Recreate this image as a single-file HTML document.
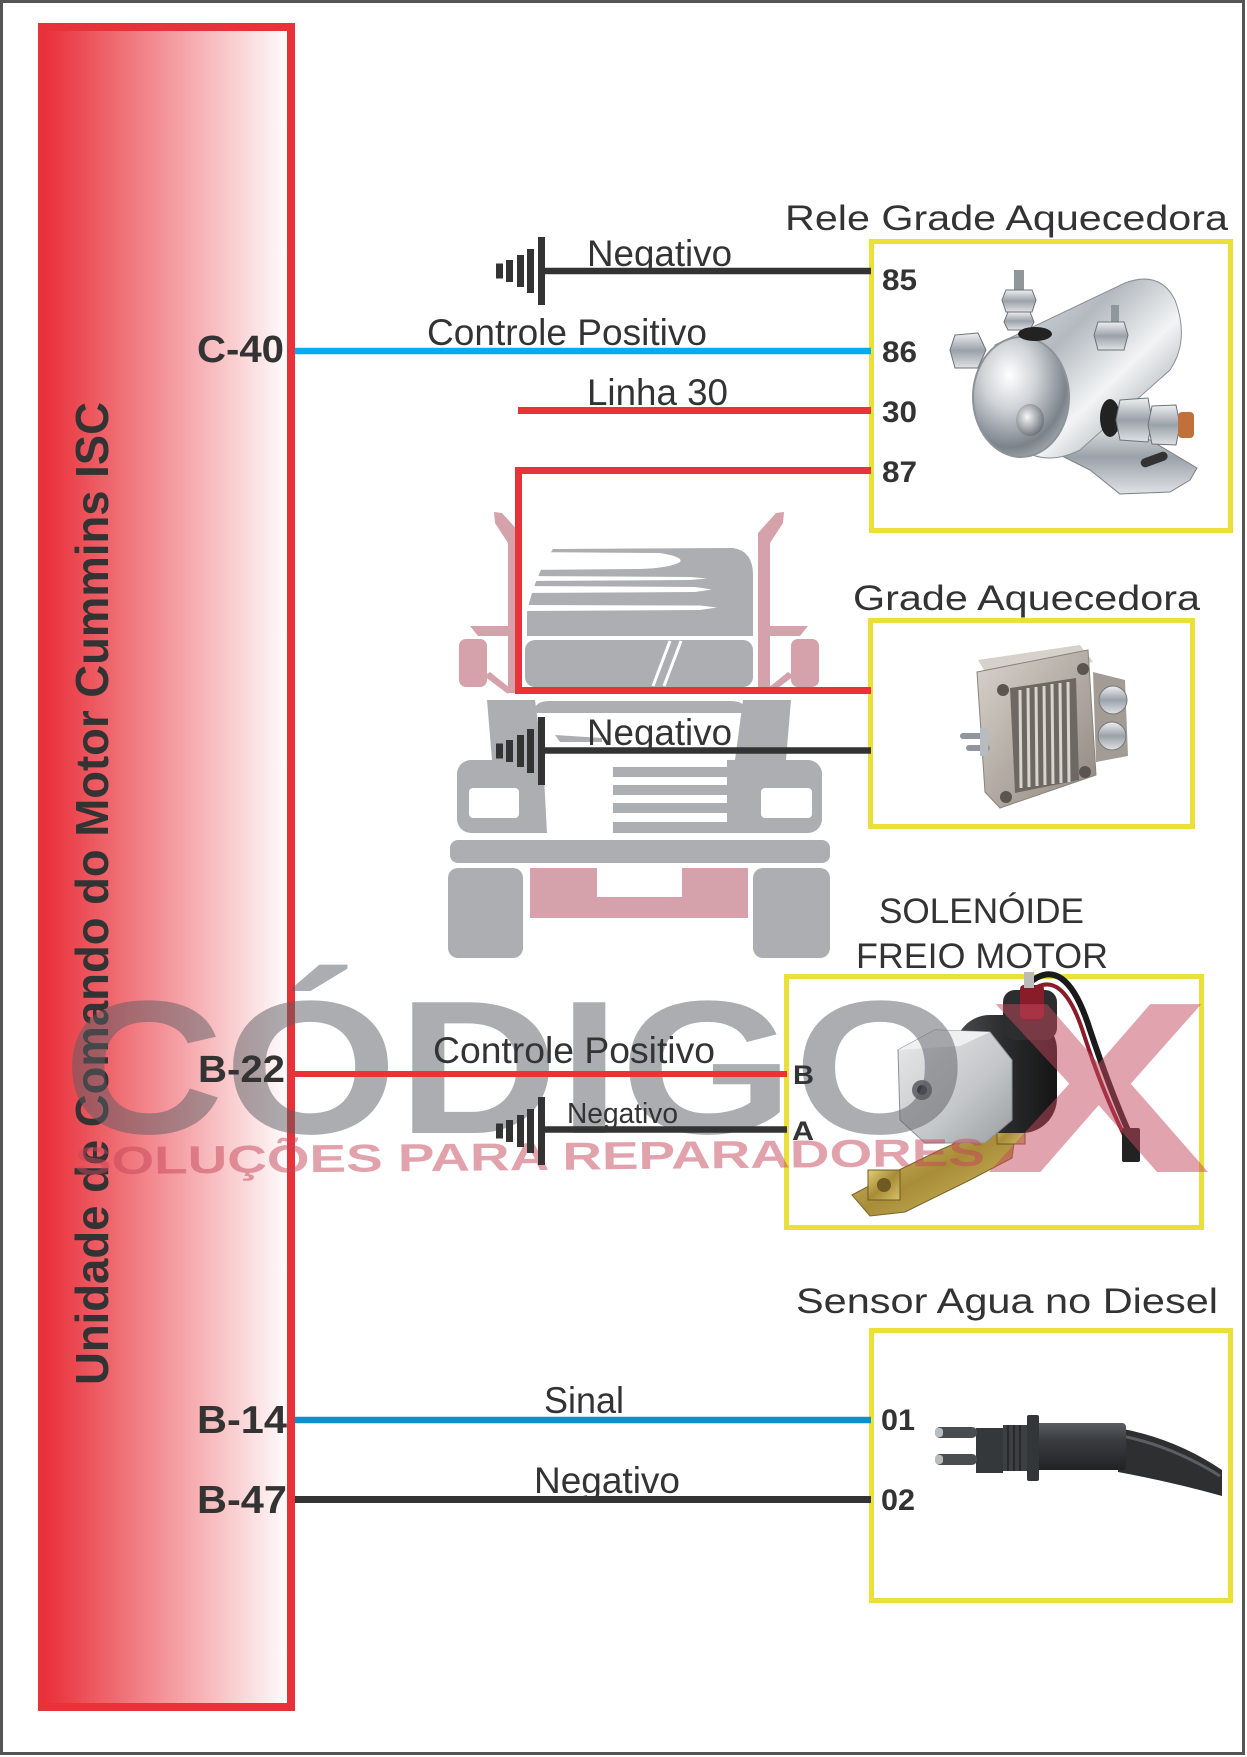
<!DOCTYPE html>
<html><head><meta charset="utf-8"><style>
html,body{margin:0;padding:0;background:#fff;}
svg{display:block;}
</style></head><body>
<svg width="1247" height="1757" viewBox="0 0 1247 1757" xmlns="http://www.w3.org/2000/svg" font-family="'Liberation Sans', Arial, sans-serif">
<defs>
<linearGradient id="panelGrad" gradientUnits="userSpaceOnUse" x1="38" y1="0" x2="291" y2="0">
<stop offset="0" stop-color="#e8303a"/><stop offset="0.06" stop-color="#e9363f"/><stop offset="1" stop-color="#ffffff"/>
</linearGradient>
<linearGradient id="silver" x1="0" y1="0" x2="0" y2="1">
<stop offset="0" stop-color="#eef0f2"/><stop offset="0.5" stop-color="#9aa1a8"/><stop offset="1" stop-color="#dfe2e5"/>
</linearGradient>
<linearGradient id="silverBody" x1="0" y1="0" x2="1" y2="1">
<stop offset="0" stop-color="#e6e9ec"/><stop offset="0.35" stop-color="#b3b9bf"/><stop offset="0.6" stop-color="#f2f4f5"/><stop offset="1" stop-color="#7e858c"/>
</linearGradient>
<radialGradient id="dome" cx="0.38" cy="0.32" r="0.8">
<stop offset="0" stop-color="#ffffff"/><stop offset="0.35" stop-color="#cfd3d7"/><stop offset="0.75" stop-color="#7b828a"/><stop offset="1" stop-color="#b7bcc1"/>
</radialGradient>
<radialGradient id="dimple" cx="0.4" cy="0.4" r="0.7">
<stop offset="0" stop-color="#f5f6f7"/><stop offset="1" stop-color="#5e656c"/>
</radialGradient>
<linearGradient id="alu" x1="0" y1="0" x2="1" y2="1">
<stop offset="0" stop-color="#d9d4cd"/><stop offset="0.5" stop-color="#b3aca4"/><stop offset="1" stop-color="#8f8880"/>
</linearGradient>
<linearGradient id="brass" x1="0" y1="0" x2="1" y2="1">
<stop offset="0" stop-color="#e2cf7a"/><stop offset="0.5" stop-color="#a88c38"/><stop offset="1" stop-color="#d8c06a"/>
</linearGradient>
<linearGradient id="coil" x1="0" y1="0" x2="1" y2="0">
<stop offset="0" stop-color="#4a4c4e"/><stop offset="0.5" stop-color="#2a2b2c"/><stop offset="1" stop-color="#151515"/>
</linearGradient>
<linearGradient id="block" x1="0" y1="0" x2="1" y2="1">
<stop offset="0" stop-color="#e9eaeb"/><stop offset="0.6" stop-color="#c3c6c8"/><stop offset="1" stop-color="#9a9ea2"/>
</linearGradient>
<linearGradient id="sensorBody" x1="0" y1="0" x2="0" y2="1">
<stop offset="0" stop-color="#5a5e62"/><stop offset="0.35" stop-color="#3b3e41"/><stop offset="1" stop-color="#202224"/>
</linearGradient>
</defs>

<rect x="0" y="0" width="1247" height="1757" fill="#fff"/>
<rect x="1.5" y="1.5" width="1242" height="1752" fill="none" stroke="#555" stroke-width="3"/>

<!-- ECU panel -->
<rect x="42" y="27" width="249" height="1680" fill="url(#panelGrad)" stroke="#e8323a" stroke-width="8"/>
<text transform="translate(108,1385) rotate(-90)" font-size="46" font-weight="bold" fill="#333" textLength="983" lengthAdjust="spacingAndGlyphs">Unidade de Comando do Motor Cummins ISC</text>

<!-- Truck watermark -->
<g>
<g fill="#d5a2ac">
<path d="M494,512 L502,513 L520,533 L520,693 L508,693 L508,543 L495,523 Z"/>
<path d="M784,512 L776,513 L758,533 L758,693 L770,693 L770,543 L783,523 Z"/>
<rect x="459" y="639" width="28" height="48" rx="7"/>
<rect x="791" y="639" width="28" height="48" rx="7"/>
<path d="M470,626 L508,626 L508,636 L478,636 Z"/>
<path d="M808,626 L770,626 L770,636 L800,636 Z"/>
<path d="M484,676 L490,672 L510,688 L508,694 Z"/>
<path d="M794,676 L788,672 L768,688 L770,694 Z"/>
<rect x="530" y="868" width="218" height="50"/>
</g>
<rect x="597" y="868" width="85" height="29" fill="#fff"/>
<g fill="#adaeb2">
<path d="M553,549 L733,548 Q753,551 753,575 L753,636 L527,636 L527,612 Q535,575 553,549 Z"/>
<rect x="525" y="640" width="228" height="47" rx="10"/>
<path d="M535,713 L535,708 Q537,701 550,701 L730,701 Q745,701 745,710 L745,713 Z"/>
<path d="M487,700 L535,700 L543,760 L492,760 Z"/>
<path d="M791,700 L743,700 L735,760 L786,760 Z"/>
<rect x="457" y="760" width="365" height="73" rx="14"/>
<rect x="450" y="840" width="380" height="23" rx="8"/>
<rect x="448" y="868" width="75" height="90" rx="10"/>
<rect x="753" y="868" width="77" height="90" rx="10"/>
<path d="M555,735 L602,738 L602,742 L560,742 Z"/>
</g>
<g fill="#fff">
<path d="M520,552 L660,553 Q684,557 680,562 Q670,568 640,569 L520,570 Z"/>
<path d="M520,576 L690,577 L707,578.5 L690,580 L520,581 Z"/>
<path d="M520,586 L695,587 L712,589.5 L695,592 L520,593 Z"/>
<path d="M520,605 L700,605.5 L717,607.5 L700,610 L520,611 Z"/>
<path d="M543,757 L613,757 L613,833 L547,833 Z"/>
<rect x="613" y="758" width="114" height="9"/>
<rect x="613" y="777" width="114" height="8"/>
<rect x="613" y="795" width="114" height="8"/>
<rect x="613" y="813" width="114" height="9"/>
<rect x="469" y="788" width="50" height="30" rx="4"/>
<rect x="761" y="788" width="51" height="30" rx="4"/>
</g>
<g stroke="#fff" stroke-width="3">
<line x1="670" y1="641" x2="653" y2="686"/>
<line x1="681" y1="641" x2="664" y2="686"/>
</g>
</g>

<!-- Yellow boxes -->
<g fill="none" stroke="#ebe03a" stroke-width="5">
<rect x="871.5" y="241.5" width="359" height="289"/>
<rect x="870.5" y="620.5" width="322" height="206"/>
<rect x="786.5" y="976.5" width="415" height="251"/>
<rect x="871.5" y="1330.5" width="359" height="270"/>
</g>

<!-- Relay image -->
<g>
<path d="M1075,420 L1150,440 L1197,468 L1190,480 L1170,492 L1120,494 L1090,470 L1060,455 Z" fill="url(#silver)" stroke="#7a7f84" stroke-width="1"/>
<rect x="1140" y="455" width="28" height="9" rx="4.5" transform="rotate(-20 1154 459)" fill="#333"/>
<path d="M995,345 L1125,283 Q1160,270 1175,300 Q1190,340 1170,370 L1080,450 Q1040,470 1010,440 Z" fill="url(#silverBody)" stroke="#8a9096" stroke-width="1"/>
<ellipse cx="1021" cy="397" rx="48" ry="60" fill="url(#dome)" stroke="#8d9399" stroke-width="2"/>
<ellipse cx="1030" cy="420" rx="14" ry="16" fill="url(#dimple)"/>
<rect x="1014" y="270" width="10" height="22" fill="#8f969c"/>
<polygon points="1006,290 1032,290 1036,300 1032,312 1006,312 1002,300" fill="url(#silver)" stroke="#6d737a"/>
<polygon points="1008,312 1030,312 1034,322 1030,330 1008,330 1004,322" fill="url(#silver)" stroke="#6d737a"/>
<ellipse cx="1035" cy="334" rx="17" ry="7" fill="#222"/>
<rect x="1111" y="305" width="8" height="18" fill="#8f969c"/>
<polygon points="1098,322 1124,322 1128,335 1124,350 1098,350 1094,335" fill="url(#silver)" stroke="#6d737a"/>
<polygon points="955,335 978,333 986,350 978,368 955,368 950,350" fill="url(#silver)" stroke="#6d737a"/>
<ellipse cx="1110" cy="418" rx="10" ry="19" fill="#222"/>
<polygon points="1120,400 1148,398 1152,420 1148,442 1120,440 1116,420" fill="url(#silver)" stroke="#6d737a"/>
<polygon points="1152,406 1176,405 1180,425 1176,445 1152,444 1148,425" fill="url(#silver)" stroke="#6d737a"/>
<rect x="1178" y="412" width="16" height="26" rx="4" fill="#c0703a"/>
</g>

<!-- Grade heater image -->
<g>
<polygon points="1093,672 1125,680 1128,756 1096,762" fill="#a39c94"/>
<circle cx="1113" cy="700" r="14" fill="url(#silver)" stroke="#777"/>
<circle cx="1112" cy="736" r="14" fill="url(#silver)" stroke="#777"/>
<polygon points="978,660 1080,645 1093,662 990,680" fill="#d6d1ca"/>
<polygon points="977,672 1088,650 1096,775 1000,808 985,792" fill="url(#alu)" stroke="#8a837c"/>
<polygon points="1010,688 1076,678 1079,780 1015,793" fill="#6e6862"/>
<g stroke="#d8d4d0" stroke-width="3">
<line x1="1020" y1="690" x2="1021" y2="788"/><line x1="1028" y1="688" x2="1029" y2="787"/>
<line x1="1036" y1="687" x2="1037" y2="786"/><line x1="1044" y1="686" x2="1045" y2="785"/>
<line x1="1052" y1="684" x2="1053" y2="784"/><line x1="1060" y1="683" x2="1061" y2="783"/>
<line x1="1068" y1="682" x2="1069" y2="782"/>
</g>
<g fill="#5a554f">
<circle cx="1003" cy="690" r="6"/><circle cx="1083" cy="669" r="6"/>
<circle cx="1085" cy="772" r="6"/><circle cx="1006" cy="797" r="6"/>
</g>
<rect x="960" y="733" width="24" height="6" rx="3" fill="#8f969c"/>
<rect x="966" y="745" width="24" height="6" rx="3" fill="#8f969c"/>
<rect x="980" y="728" width="8" height="28" fill="#b8bcc0"/>
</g>

<!-- Solenoid image -->
<g>
<path d="M1027,985 Q1065,950 1090,1030 Q1110,1090 1130,1135" fill="none" stroke="#1a1a1a" stroke-width="6"/>
<path d="M1030,992 Q1062,965 1084,1035 Q1102,1090 1124,1135" fill="none" stroke="#8b1a2a" stroke-width="4"/>
<rect x="1122" y="1128" width="18" height="34" rx="2" fill="#222"/>
<path d="M852,1195 L895,1172 L940,1150 L990,1128 L1015,1135 L1012,1158 L970,1180 L905,1212 L870,1216 Z" fill="url(#brass)" stroke="#7a6528"/>
<rect x="868" y="1170" width="32" height="30" fill="url(#brass)" stroke="#6e5a22"/>
<circle cx="884" cy="1185" r="7" fill="#6e5a22"/>
<rect x="997" y="1118" width="28" height="26" fill="url(#brass)" stroke="#6e5a22"/>
<rect x="955" y="1015" width="102" height="118" rx="35" fill="url(#coil)"/>
<rect x="1003" y="990" width="54" height="50" rx="12" fill="#2c2d2e"/>
<rect x="1020" y="985" width="24" height="34" rx="4" fill="#8a1c2a"/>
<rect x="1024" y="972" width="10" height="16" fill="#bbb"/>
<polygon points="898,1050 935,1030 990,1032 1012,1060 1012,1120 985,1143 925,1143 900,1120" fill="url(#block)" stroke="#8d9194"/>
<polygon points="898,1050 935,1030 990,1032 960,1046" fill="#eef0f1"/>
<circle cx="922" cy="1090" r="10" fill="#6a6e72"/>
<circle cx="922" cy="1090" r="5" fill="#3a3d40"/>
</g>

<!-- Sensor image -->
<g>
<path d="M1118,1428 Q1175,1438 1222,1470 L1222,1496 Q1172,1482 1118,1472 Z" fill="#2d2f31"/>
<path d="M1122,1436 Q1172,1446 1220,1476" fill="none" stroke="#5b5f63" stroke-width="3"/>
<rect x="1031" y="1423" width="95" height="47" rx="4" fill="url(#sensorBody)"/>
<rect x="1027" y="1415" width="12" height="66" rx="2" fill="#333638"/>
<rect x="1003" y="1425" width="24" height="46" fill="#3d4043"/>
<g stroke="#222" stroke-width="1.5"><line x1="1008" y1="1425" x2="1008" y2="1471"/><line x1="1014" y1="1425" x2="1014" y2="1471"/><line x1="1020" y1="1425" x2="1020" y2="1471"/></g>
<rect x="976" y="1428" width="27" height="45" fill="#35383a"/>
<rect x="935" y="1427" width="42" height="11" rx="5" fill="#4a4d50"/>
<rect x="935" y="1454" width="42" height="11" rx="5" fill="#4a4d50"/>
<rect x="935" y="1428" width="8" height="9" rx="3" fill="#b9bdc0"/>
<rect x="935" y="1455" width="8" height="9" rx="3" fill="#b9bdc0"/>
</g>

<!-- Watermark text -->
<text x="63" y="1133" font-size="190" font-weight="bold" textLength="904" lengthAdjust="spacingAndGlyphs" fill="#5a5c62" fill-opacity="0.5">CÓDIGO</text>
<text x="986" y="1172" font-size="244" font-weight="bold" textLength="225" lengthAdjust="spacingAndGlyphs" fill="#c34a5e" fill-opacity="0.5">X</text>
<text x="75" y="1170" font-size="39" font-weight="bold" textLength="910" lengthAdjust="spacingAndGlyphs" fill="#c3465a" fill-opacity="0.5" transform="rotate(-0.55 530 1167)">SOLUÇÕES PARA REPARADORES</text>

<!-- Wires -->
<g stroke-linecap="butt" fill="none">
<line x1="544" y1="271" x2="871" y2="271" stroke="#333" stroke-width="6.5"/>
<line x1="295" y1="351" x2="871" y2="351" stroke="#00aeef" stroke-width="6.5"/>
<line x1="518" y1="410.5" x2="871" y2="410.5" stroke="#e8333b" stroke-width="7"/>
<polyline points="871,470.5 518.5,470.5 518.5,690.5 871,690.5" stroke="#e8333b" stroke-width="7"/>
<line x1="544" y1="750.5" x2="871" y2="750.5" stroke="#333" stroke-width="6.5"/>
<line x1="295" y1="1074" x2="787" y2="1074" stroke="#e8333b" stroke-width="6"/>
<line x1="544" y1="1129.5" x2="787" y2="1129.5" stroke="#333" stroke-width="6.5"/>
<line x1="295" y1="1420" x2="871" y2="1420" stroke="#0e8fca" stroke-width="6.5"/>
<line x1="295" y1="1499.5" x2="871" y2="1499.5" stroke="#333" stroke-width="7"/>
</g>

<!-- Ground symbols -->
<g fill="#333">
<rect x="496" y="263.5" width="7" height="15"/><rect x="506" y="260" width="7" height="22"/><rect x="517" y="255" width="7" height="32"/><rect x="527" y="249" width="7" height="44"/><rect x="538" y="237" width="7" height="68"/>
<rect x="496" y="743.5" width="7" height="15"/><rect x="506" y="740" width="7" height="22"/><rect x="517" y="735" width="7" height="32"/><rect x="527" y="729" width="7" height="44"/><rect x="538" y="717" width="7" height="68"/>
<rect x="496" y="1123.5" width="7" height="15"/><rect x="506" y="1120" width="7" height="22"/><rect x="517" y="1115" width="7" height="32"/><rect x="527" y="1109" width="7" height="44"/><rect x="538" y="1097" width="7" height="68"/>
</g>

<!-- Labels -->
<g fill="#333">
<text x="587" y="266" font-size="37" textLength="145" lengthAdjust="spacingAndGlyphs">Negativo</text>
<text x="427" y="345" font-size="37" textLength="280" lengthAdjust="spacingAndGlyphs">Controle Positivo</text>
<text x="587" y="405" font-size="37" textLength="141" lengthAdjust="spacingAndGlyphs">Linha 30</text>
<text x="587" y="745" font-size="37" textLength="145" lengthAdjust="spacingAndGlyphs">Negativo</text>
<text x="433" y="1063" font-size="37" textLength="282" lengthAdjust="spacingAndGlyphs">Controle Positivo</text>
<text x="567" y="1123" font-size="29" textLength="111" lengthAdjust="spacingAndGlyphs">Negativo</text>
<text x="544" y="1413" font-size="37" textLength="80" lengthAdjust="spacingAndGlyphs">Sinal</text>
<text x="534" y="1493" font-size="37" textLength="146" lengthAdjust="spacingAndGlyphs">Negativo</text>

<text x="785" y="230" font-size="35" textLength="443" lengthAdjust="spacingAndGlyphs">Rele Grade Aquecedora</text>
<text x="853" y="610" font-size="35" textLength="347" lengthAdjust="spacingAndGlyphs">Grade Aquecedora</text>
<text x="879" y="923" font-size="35" textLength="205" lengthAdjust="spacingAndGlyphs">SOLENÓIDE</text>
<text x="856" y="968" font-size="35" textLength="252" lengthAdjust="spacingAndGlyphs">FREIO MOTOR</text>
<text x="796" y="1313" font-size="35" textLength="422" lengthAdjust="spacingAndGlyphs">Sensor Agua no Diesel</text>

<g font-weight="bold">
<text x="197" y="362" font-size="38" textLength="87" lengthAdjust="spacingAndGlyphs">C-40</text>
<text x="198" y="1082" font-size="38" textLength="87" lengthAdjust="spacingAndGlyphs">B-22</text>
<text x="197" y="1433" font-size="39" textLength="90" lengthAdjust="spacingAndGlyphs">B-14</text>
<text x="197" y="1513" font-size="39" textLength="90" lengthAdjust="spacingAndGlyphs">B-47</text>
<text x="882" y="290" font-size="30" textLength="35" lengthAdjust="spacingAndGlyphs">85</text>
<text x="882" y="362" font-size="30" textLength="35" lengthAdjust="spacingAndGlyphs">86</text>
<text x="882" y="422" font-size="30" textLength="35" lengthAdjust="spacingAndGlyphs">30</text>
<text x="882" y="482" font-size="30" textLength="35" lengthAdjust="spacingAndGlyphs">87</text>
<text x="793" y="1084" font-size="27" textLength="21" lengthAdjust="spacingAndGlyphs">B</text>
<text x="792" y="1140" font-size="27" textLength="22" lengthAdjust="spacingAndGlyphs">A</text>
<text x="881" y="1430" font-size="30" textLength="34" lengthAdjust="spacingAndGlyphs">01</text>
<text x="881" y="1510" font-size="30" textLength="34" lengthAdjust="spacingAndGlyphs">02</text>
</g>
</g>
</svg>
</body></html>
